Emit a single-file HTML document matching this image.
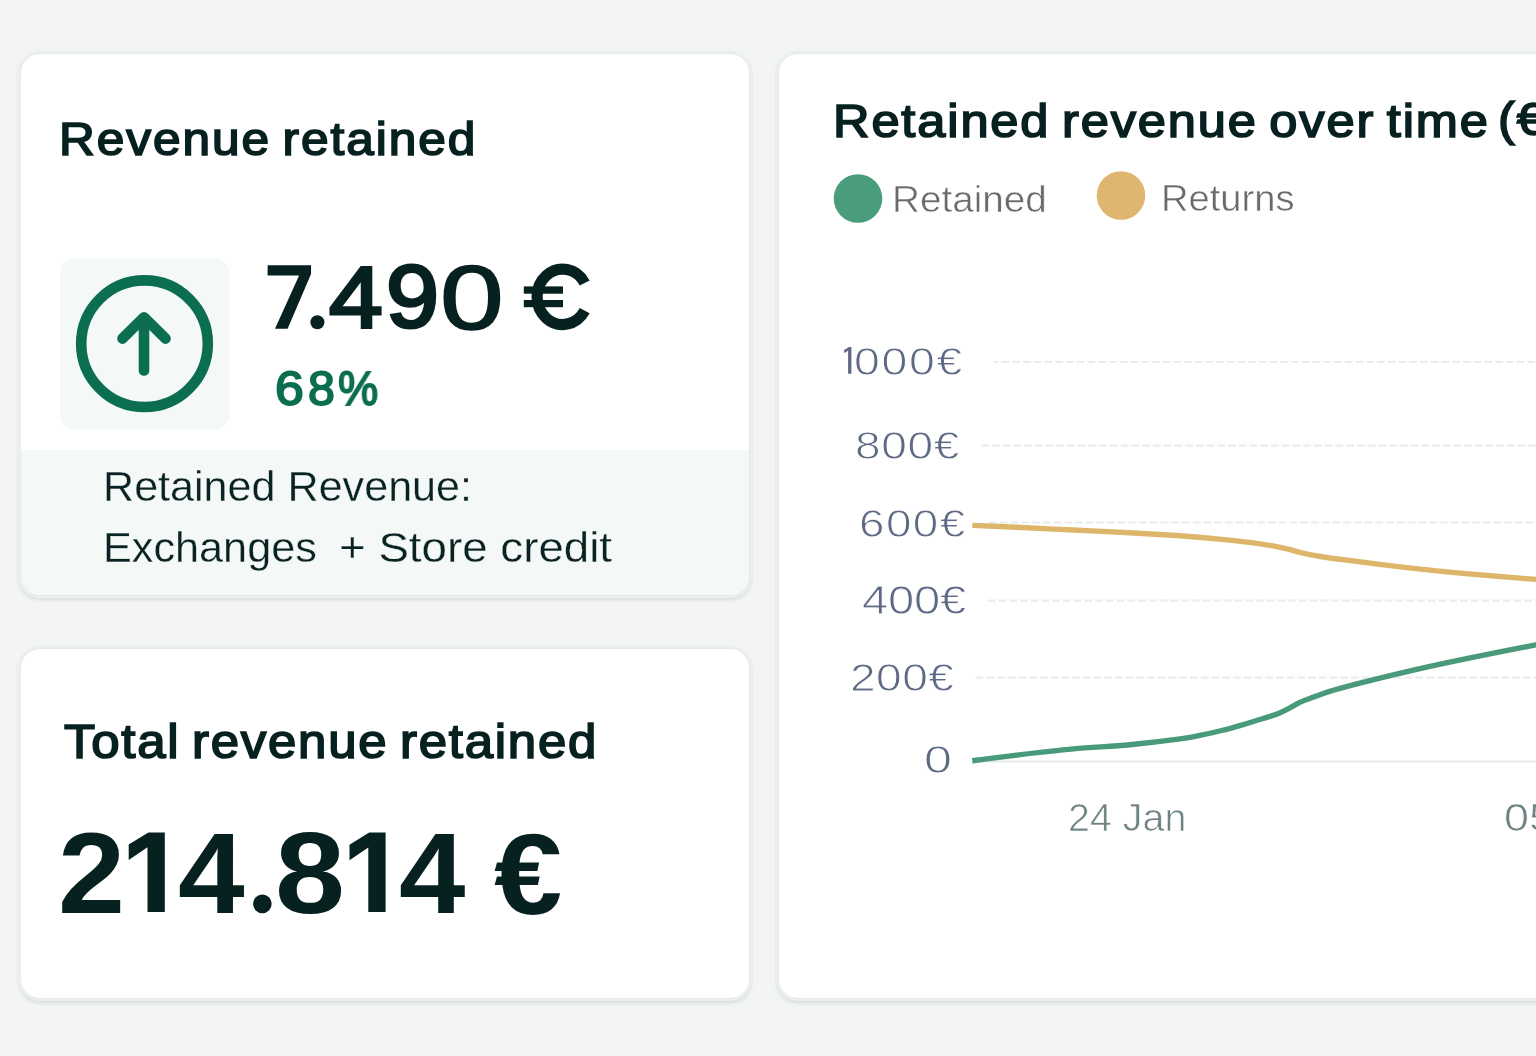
<!DOCTYPE html>
<html>
<head>
<meta charset="utf-8">
<style>
html,body{margin:0;padding:0;}
body{width:1536px;height:1056px;overflow:hidden;background:#f3f5f4;position:relative;font-family:"Liberation Sans",sans-serif;color:#0a1f1e;}
.card{position:absolute;background:#fff;border:1.5px solid #e6e9ea;border-radius:20px;box-shadow:0 0 0 2px #ecefef,0 0 3px 3px rgba(0,0,0,0.02),0 3px 3px 1.5px rgba(20,30,40,0.07);overflow:hidden;box-sizing:border-box;}
.t{position:absolute;white-space:pre;line-height:1;transform-origin:0 0;will-change:transform;}
</style>
</head>
<body>
<div class="card" style="left:19.5px;top:52.5px;width:730.7px;height:543.5px;">
  <div style="position:absolute;left:0;top:396.2px;right:0;bottom:0;background:#f4f8f7;"></div>
  <div style="position:absolute;left:39px;top:205px;width:169px;height:170px;border-radius:13px;background:#f4f8f7;"></div>
</div>
<div class="card" style="left:19.5px;top:647.5px;width:730.7px;height:351px;"></div>
<div class="card" style="left:777.5px;top:52.5px;width:900px;height:946px;"></div>
<svg style="position:absolute;left:0;top:0;" width="1536" height="1056">
  <circle cx="144.5" cy="343.7" r="63.3" fill="none" stroke="#0c6e50" stroke-width="10.6"/>
  <path d="M144 317.2 V370.5 M122.5 338.6 L144 317.2 L165.5 338.6" fill="none" stroke="#0c6e50" stroke-width="10.6" stroke-linecap="round" stroke-linejoin="round"/>
  <circle cx="858" cy="198.5" r="24.3" fill="#4a9d7c"/>
  <circle cx="1121" cy="195.5" r="24.3" fill="#deb66f"/>
  <g stroke="#eaedee" stroke-width="2.2" stroke-dasharray="7.8 2.93" fill="none">
    <line x1="993.7" y1="362" x2="1536" y2="362" stroke-dashoffset="2.9"/>
    <line x1="981.25" y1="445.6" x2="1536" y2="445.6"/>
    <line x1="989" y1="522.5" x2="1536" y2="522.5"/>
    <line x1="987.8" y1="600.6" x2="1536" y2="600.6"/>
    <line x1="975.5" y1="677.7" x2="1536" y2="677.7"/>
  </g>
  <line x1="972" y1="761.4" x2="1536" y2="761.4" stroke="#e6e9ea" stroke-width="2"/>
  <path d="M972.3 525.4 C979.7 525.7 999.8 526.5 1016.6 527.3 C1033.4 528.1 1054.4 529.1 1073.3 530.0 C1092.2 530.9 1112.1 531.7 1129.9 532.7 C1147.7 533.7 1164.7 534.7 1180.0 535.8 C1195.3 536.9 1211.3 538.4 1221.7 539.4 C1232.1 540.4 1235.6 540.8 1242.5 541.6 C1249.4 542.4 1257.2 543.4 1263.3 544.3 C1269.4 545.2 1274.7 546.2 1279.0 547.1 C1283.3 548.0 1285.9 548.5 1289.4 549.4 C1292.9 550.3 1295.5 551.3 1299.8 552.3 C1304.1 553.3 1308.7 554.4 1315.4 555.6 C1322.1 556.8 1323.7 557.2 1340.0 559.3 C1356.3 561.4 1391.5 565.9 1413.4 568.4 C1435.3 570.9 1450.9 572.3 1471.3 574.1 C1491.7 575.9 1521.2 578.2 1536.0 579.4 C1550.8 580.6 1556.0 581.1 1560.0 581.4" fill="none" stroke="#deb66b" stroke-width="5.4"/>
  <path d="M972.3 760.8 C979.7 759.8 999.8 757.1 1016.6 755.1 C1033.4 753.1 1054.4 750.6 1073.3 748.9 C1092.2 747.2 1112.1 746.4 1129.9 744.7 C1147.7 743.0 1168.2 740.5 1180.0 738.9 C1191.8 737.3 1193.8 736.6 1200.8 735.2 C1207.8 733.8 1214.8 732.2 1221.7 730.5 C1228.7 728.8 1235.6 726.8 1242.5 724.8 C1249.4 722.8 1257.2 720.4 1263.3 718.5 C1269.4 716.6 1274.7 715.0 1279.0 713.3 C1283.3 711.6 1285.9 709.9 1289.4 708.1 C1292.9 706.3 1295.5 704.4 1299.8 702.4 C1304.1 700.4 1308.7 698.8 1315.4 696.4 C1322.1 694.0 1323.7 692.7 1340.0 688.3 C1356.3 683.9 1391.5 675.2 1413.4 670.1 C1435.3 665.0 1450.9 661.8 1471.3 657.6 C1491.7 653.4 1521.2 647.7 1536.0 644.8 C1550.8 641.9 1556.0 641.0 1560.0 640.3" fill="none" stroke="#489a7a" stroke-width="5.4"/>
</svg>
<svg style="position:absolute;left:0;top:0;" width="1536" height="1056">
  <g fill="#072020">
    <polygon points="267.6,265.3 311.05,265.3 311.05,274 287.6,328.7 275,328.7 299.1,275.4 267.6,275.4"/>
    <circle cx="317.4" cy="322.2" r="7"/>
    <path transform="translate(164.8 832.4)" d="M-36.1 12.2 L-16.4 0 L0 0 L0 79.6 L-17.3 79.6 L-17.3 14.9 L-36.1 27.7 Z"/>
    <path transform="translate(385.6 832.6)" d="M-36.1 12.2 L-16.4 0 L0 0 L0 79.4 L-17.3 79.4 L-17.3 14.9 L-36.1 27.7 Z"/>
    <circle cx="262.35" cy="903.85" r="9.35"/>
    <polygon fill="#5e6a84" points="844.1,349.9 849.0,347.0 851.4,347.0 851.4,373.7 848.1,373.7 848.1,350.8 844.1,352.9"/>
    <path d="M584.7 283 A25.5 27.7 0 1 0 584.7 310.6" fill="none" stroke="#072020" stroke-width="11.2"/>
    <rect x="523.8" y="286.4" width="39.2" height="7.3"/>
    <rect x="523.8" y="300" width="39.2" height="7.2"/>
  </g>
</svg>
<div class="t" style="left:58.80px;top:117.20px;font-size:45.90px;letter-spacing:1.82px;word-spacing:-4.00px;transform:scaleX(1.0800);color:#072020;font-weight:normal;-webkit-text-stroke:1.70px currentColor;">Revenue retained</div>
<div class="t" style="left:103.00px;top:466.20px;font-size:41.60px;transform:scaleX(1.0363);color:#092322;-webkit-text-stroke:0.30px #f4f8f7;">Retained Revenue:</div>
<div class="t" style="left:103.00px;top:527.00px;font-size:41.60px;transform:scaleX(1.0389);color:#092322;-webkit-text-stroke:0.30px #f4f8f7;">Exchanges</div>
<div class="t" style="left:339.00px;top:527.00px;font-size:41.60px;transform:scaleX(1.0987);color:#092322;-webkit-text-stroke:0.30px #f4f8f7;">+ Store credit</div>
<div class="t" style="left:64.00px;top:718.20px;font-size:47.20px;letter-spacing:1.62px;word-spacing:-4.00px;transform:scaleX(1.0800);color:#072020;font-weight:normal;-webkit-text-stroke:1.70px currentColor;">Total revenue retained</div>
<div class="t" style="left:833.00px;top:98.00px;font-size:46.80px;letter-spacing:1.74px;word-spacing:-4.00px;transform:scaleX(1.0800);color:#072020;font-weight:normal;-webkit-text-stroke:1.70px currentColor;">Retained revenue over time</div>
<div class="t" style="left:892.00px;top:181.00px;font-size:37.20px;transform:scaleX(1.0402);color:#6a6a6a;-webkit-text-stroke:0.50px #fff;">Retained</div>
<div class="t" style="left:1161.00px;top:180.00px;font-size:37.20px;transform:scaleX(1.0255);color:#6a6a6a;-webkit-text-stroke:0.50px #fff;">Returns</div>
<div class="t" style="left:854.00px;top:342.25px;font-size:39.66px;letter-spacing:1.42px;transform:scaleX(1.1700);color:#5e6a84;-webkit-text-stroke:0.90px #fff;">000€</div>
<div class="t" style="left:855.00px;top:426.00px;font-size:39.36px;letter-spacing:0.57px;transform:scaleX(1.1700);color:#5e6a84;-webkit-text-stroke:0.90px #fff;">800€</div>
<div class="t" style="left:858.75px;top:503.50px;font-size:39.15px;letter-spacing:1.21px;transform:scaleX(1.1700);color:#5e6a84;-webkit-text-stroke:0.90px #fff;">600€</div>
<div class="t" style="left:861.50px;top:580.50px;font-size:40.31px;letter-spacing:-0.17px;transform:scaleX(1.1700);color:#5e6a84;-webkit-text-stroke:0.90px #fff;">400€</div>
<div class="t" style="left:850.00px;top:658.00px;font-size:39.36px;letter-spacing:0.40px;transform:scaleX(1.1700);color:#5e6a84;-webkit-text-stroke:0.90px #fff;">200€</div>
<div class="t" style="left:924.00px;top:740.00px;font-size:39.36px;transform:scaleX(1.2762);color:#5e6a84;-webkit-text-stroke:0.90px #fff;">0</div>
<div class="t" style="left:1068.00px;top:799.25px;font-size:38.09px;transform:scaleX(1.0347);color:#6d8282;-webkit-text-stroke:0.70px #fff;">24 Jan</div>
<div class="t" style="left:329.30px;top:253.99px;font-size:87.28px;transform:scaleX(1.1069);color:#072020;font-weight:normal;-webkit-text-stroke:3.20px currentColor;">4</div>
<div class="t" style="left:385.90px;top:253.49px;font-size:88.75px;transform:scaleX(1.0731);color:#072020;font-weight:normal;-webkit-text-stroke:3.20px currentColor;">9</div>
<div class="t" style="left:439.50px;top:252.24px;font-size:91.08px;transform:scaleX(1.2575);color:#072020;font-weight:normal;-webkit-text-stroke:1.60px currentColor;">0</div>
<div class="t" style="left:275.00px;top:364.86px;font-size:47.39px;transform:scaleX(1.0927);color:#0c6e50;font-weight:normal;-webkit-text-stroke:1.80px currentColor;">6</div>
<div class="t" style="left:308.00px;top:364.86px;font-size:47.39px;transform:scaleX(1.0188);color:#0c6e50;font-weight:normal;-webkit-text-stroke:1.80px currentColor;">8</div>
<div class="t" style="left:337.75px;top:364.86px;font-size:47.71px;transform:scaleX(0.9476);color:#0c6e50;font-weight:normal;-webkit-text-stroke:1.80px currentColor;">%</div>
<div class="t" style="left:57.50px;top:816.00px;font-size:114.79px;transform:scaleX(1.0498);color:#072020;font-weight:bold;">2</div>
<div class="t" style="left:177.80px;top:815.75px;font-size:115.16px;transform:scaleX(1.0399);color:#072020;font-weight:bold;">4</div>
<div class="t" style="left:274.50px;top:816.40px;font-size:115.14px;transform:scaleX(1.0930);color:#072020;font-weight:bold;">8</div>
<div class="t" style="left:398.90px;top:816.00px;font-size:114.73px;transform:scaleX(1.0407);color:#072020;font-weight:bold;">4</div>
<div class="t" style="left:493.60px;top:815.65px;font-size:115.49px;transform:scaleX(1.0624);color:#072020;font-weight:bold;">€</div>
<div class="t" style="left:1498.00px;top:95.80px;font-size:46.80px;letter-spacing:1.74px;word-spacing:-4.00px;transform:scaleX(1.0800);color:#072020;font-weight:normal;-webkit-text-stroke:1.70px currentColor;">(€)</div>
<div class="t" style="left:1503.50px;top:799.25px;font-size:38.09px;transform:scaleX(1.1800);color:#6d8282;-webkit-text-stroke:0.70px #fff;">05 Feb</div>
</body>
</html>
